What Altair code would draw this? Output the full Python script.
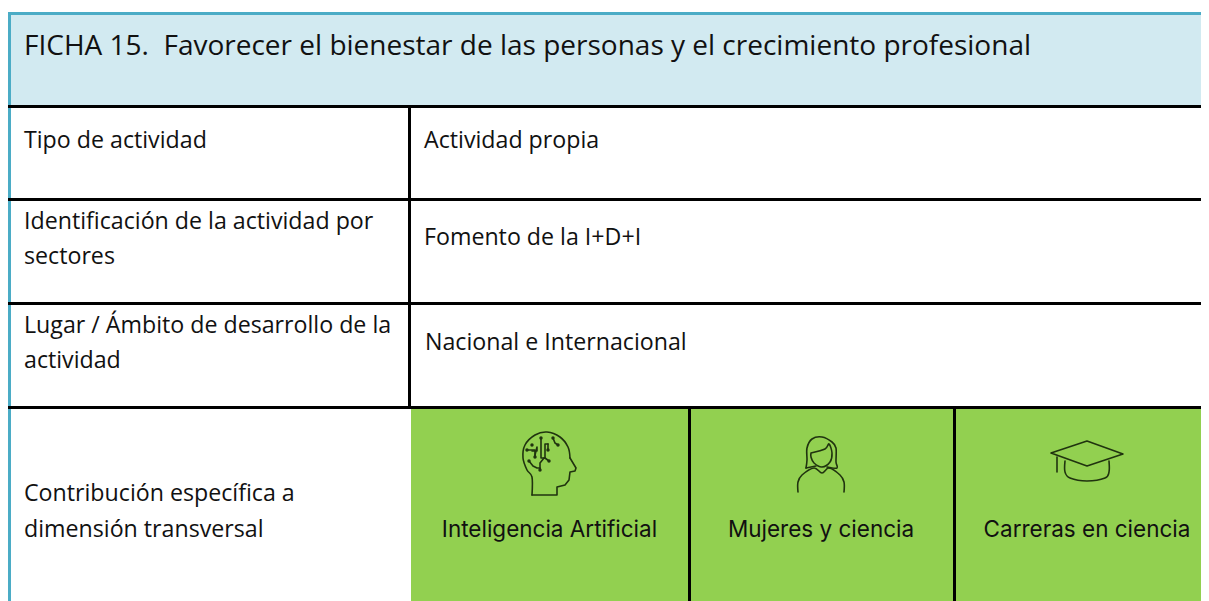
import altair as alt
import pandas as pd

# Table geometry (pixels of the 1209x601 picture)
band_names = ["title", "green1", "green2", "green3", "top", "left", "h1", "h2", "h2b", "h3", "v1", "v2", "v3"]
band_x0 = [11, 411, 691, 956, 8, 8, 8, 8, 8, 8, 408, 688, 953]
band_x1 = [1201, 688, 953, 1201, 1201, 11, 1201, 1201, 1201, 1201, 411, 691, 956]
band_y0 = [15, 409, 409, 409, 12, 12, 105, 198, 302, 406, 105, 406, 406]
band_y1 = [105, 601, 601, 601, 15, 601, 108, 201, 305, 409, 406, 601, 601]
band_col = ["#D2EAF1", "#92D050", "#92D050", "#92D050", "#4BACC6", "#4BACC6",
            "#000000", "#000000", "#000000", "#000000", "#000000", "#000000", "#000000"]

# Text
title_text = ["FICHA 15.\u00a0 Favorecer el bienestar de las personas y el crecimiento profesional"]
title_x = [24]
title_y = [55]

body_text = ["Tipo de actividad", "Actividad propia",
             "Identificación de la actividad por", "sectores", "Fomento de la I+D+I",
             "Lugar / Ámbito de desarrollo de la", "actividad", "Nacional e Internacional",
             "Contribución específica a", "dimensión transversal"]
body_x = [24, 424, 24, 24, 424, 24, 24, 425, 24, 24]
body_y = [148, 148, 229, 264, 245, 333, 368, 350, 501, 537]

green_text = ["Inteligencia Artificial", "Mujeres y ciencia", "Carreras en ciencia"]
green_x = [549.5, 821, 1087]
green_y = [537, 537, 537]

# Icons: (name, x list, y list)
curved_lines = [
    ("head", [532, 532, 527, 523, 525, 535, 547, 560, 568, 570], [495, 477, 470, 458, 445, 435, 432, 437, 447, 458]),
    ("hair", [806, 807, 807, 812, 822, 832, 836, 836, 837, 827], [468, 460, 448, 439, 437, 442, 448, 462, 468, 467]),
    ("face", [811, 825, 829, 832, 830, 822, 814, 811, 811], [453, 449, 444, 453, 462, 467, 463, 457, 453]),
    ("body", [798, 798, 802, 814, 822, 829, 840, 844, 844], [492, 482, 475, 468, 473, 468, 475, 482, 492]),
    ("bowl", [1065, 1065, 1070, 1087, 1105, 1109, 1109], [461, 472, 478, 481, 478, 472, 461]),
]
straight_lines = [
    ("head2", [570, 576, 575, 570, 569, 565, 557, 557, 532], [458, 468, 471, 472, 480, 485, 487, 495, 495]),
    ("c1", [541, 541, 545, 545, 548], [438, 458, 458, 444, 444]),
    ("c1b", [548, 548], [444, 450]),
    ("c2", [532, 537, 537, 535, 535], [451, 451, 447, 455, 457]),
    ("c2b", [527, 535, 535], [450, 450, 457]),
    ("c3", [529, 533, 537, 540, 540], [461, 466, 468, 468, 470]),
    ("c3b", [540, 540, 544, 545, 549], [470, 463, 458, 458, 461]),
    ("c4", [553, 555, 558], [438, 443, 445]),
    ("hair2", [806, 816], [468, 466]),
    ("cap", [1051, 1087, 1123, 1087, 1051], [453, 441, 454, 466, 453]),
    ("tassel", [1057, 1057], [457, 472]),
]
dot_x = [532, 529, 535, 541, 548, 553, 558, 549, 540, 527]
dot_y = [445, 461, 457, 438, 450, 438, 445, 461, 470, 450]

X = alt.Scale(domain=[8, 1201], range=[0, 1193], nice=False, zero=False)
Y = alt.Scale(domain=[8, 601], range=[0, 593], nice=False, zero=False)


def xe(f="x"):
    return alt.X(f"{f}:Q", scale=X, axis=None)


def ye(f="y"):
    return alt.Y(f"{f}:Q", scale=Y, axis=None)


bands = pd.DataFrame({"n": band_names, "x": band_x0, "x2": band_x1, "y": band_y0, "y2": band_y1, "c": band_col})
rects = alt.Chart(bands).mark_rect(strokeWidth=0).encode(
    x=xe(), x2="x2:Q", y=ye(), y2="y2:Q", color=alt.Color("c:N", scale=None)
)


def texts(t, x, y, **kw):
    df = pd.DataFrame({"t": t, "x": x, "y": y})
    return alt.Chart(df).mark_text(baseline="alphabetic", **kw).encode(x=xe(), y=ye(), text="t:N")


title = texts(title_text, title_x, title_y, align="left", font="Open Sans", fontSize=28, color="#111111")
body = texts(body_text, body_x, body_y, align="left", font="Open Sans", fontSize=23.2, color="#111111")
green = texts(green_text, green_x, green_y, align="center", font="Inter", fontSize=22.5, color="#111111")


def icon_layer(items, interp):
    rows = []
    for name, xs, ys in items:
        for i, (a, b) in enumerate(zip(xs, ys)):
            rows.append({"n": name, "i": i, "x": a, "y": b})
    return alt.Chart(pd.DataFrame(rows)).mark_line(
        stroke="#20330f", strokeWidth=1.6, strokeJoin="round", strokeCap="round", interpolate=interp
    ).encode(x=xe(), y=ye(), detail="n:N", order="i:Q")


curved = icon_layer(curved_lines, "cardinal")
straight = icon_layer(straight_lines, "linear")
dots = alt.Chart(pd.DataFrame({"x": dot_x, "y": dot_y})).mark_circle(color="#20330f", size=12, opacity=1).encode(
    x=xe(), y=ye()
)

chart = alt.layer(rects, curved, straight, dots, title, body, green).properties(
    width=1193, height=593, padding=0, autosize=alt.AutoSizeParams(type="none"), background="#ffffff"
).configure_view(strokeWidth=0)

chart.save("out.html", embed_options={"renderer": "svg", "actions": False})
